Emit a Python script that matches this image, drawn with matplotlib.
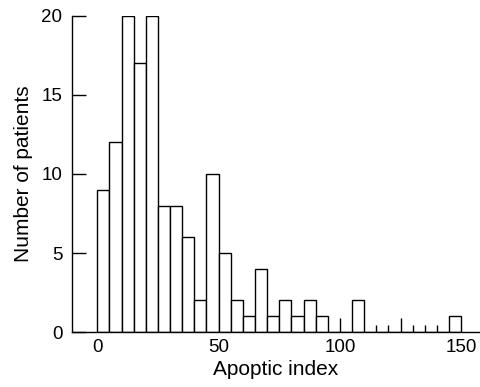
import matplotlib
matplotlib.use("Agg")
import matplotlib.pyplot as plt
import numpy as np

# histogram of apoptic index, bins 5 wide starting at 0
bin_left = np.arange(0, 150, 5)
counts = [9, 12, 20, 17, 20, 8, 8, 6, 2, 10,
          5, 2, 1, 4, 1, 2, 1, 2, 1, 0,
          0, 2, 0, 0, 0, 0, 0, 0, 0, 1]
# short stray marks along the baseline
stub_x = [100, 115, 120, 125, 130, 135, 140]
stub_h = [0.9, 0.42, 0.42, 0.89, 0.42, 0.42, 0.42]

plt.rcParams["font.family"] = ["Liberation Sans", "DejaVu Sans"]

fig = plt.figure(figsize=(4.8, 3.87), dpi=100)
ax = fig.add_axes([0.15, 0.142, 0.85, 0.817])

ax.bar(bin_left, counts, width=5, align="edge", facecolor="white",
       edgecolor="black", linewidth=1.0)
ax.vlines(stub_x, 0, stub_h, color="black", linewidth=1.0)

ax.set_xlim(-10.4, 157.7)
ax.set_ylim(0, 20)
ax.set_xticks([0, 50, 100, 150])
ax.set_yticks([0, 5, 10, 15, 20])
ax.tick_params(axis="x", length=0, labelsize=13.5, pad=5)
ax.tick_params(axis="y", direction="in", length=10, width=1, labelsize=13.5, pad=7)

for s in ["top", "right"]:
    ax.spines[s].set_visible(False)
ax.spines["left"].set_linewidth(1.0)
ax.spines["bottom"].set_linewidth(1.0)

ax.set_xlabel("Apoptic index", fontsize=15, labelpad=3)
ax.set_ylabel("Number of patients", fontsize=15, labelpad=6)

fig.savefig("out.png", dpi=100)
